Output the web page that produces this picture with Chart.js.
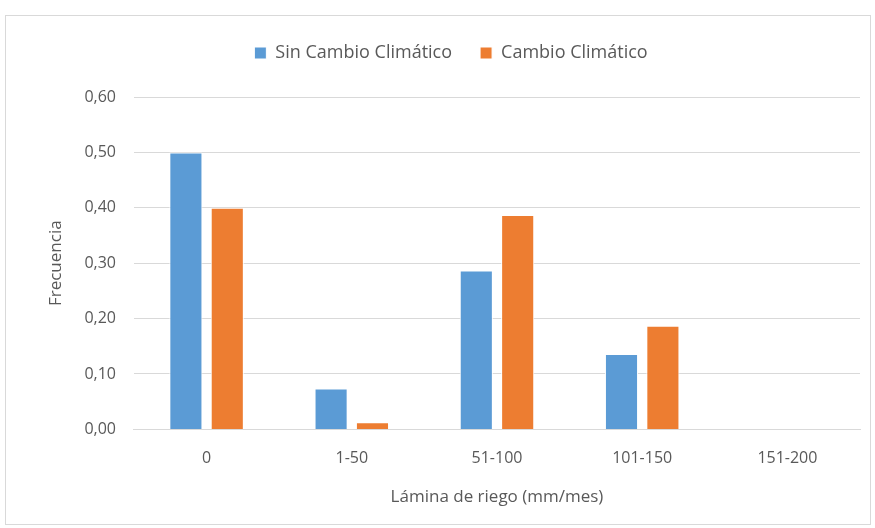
<!DOCTYPE html>
<html>
<head>
<meta charset="utf-8"/>
<script src="https://cdn.jsdelivr.net/npm/chart.js@4/dist/chart.umd.min.js"></script>
<style>
  body { margin: 0; background: #fff; }
  #frame {
    position: absolute; left: 5px; top: 15px;
    width: 864px; height: 508px;
    border: 1px solid #d9d9d9;
  }
</style>
</head>
<body>
<div id="frame"><canvas id="c" width="864" height="508"></canvas></div>
<script>
// categories and values
var categories = ["0", "1-50", "51-100", "101-150", "151-200"];
var sinCambio = [0.50, 0.074, 0.287, 0.136, 0];
var conCambio = [0.40, 0.013, 0.387, 0.187, 0];
var yTicks = [0, 0.1, 0.2, 0.3, 0.4, 0.5, 0.6];

var fontFam = "'Open Sans', 'Noto Sans', sans-serif";
var grey = "#595959";

// extra room under the legend, like the original
var legendGap = {
  id: "legendGap",
  beforeInit: function (chart) {
    var fit = chart.legend.fit;
    chart.legend.fit = function () {
      fit.bind(chart.legend)();
      this.height += 25;
    };
  }
};

new Chart(document.getElementById("c"), {
  type: "bar",
  data: {
    labels: categories,
    datasets: [
      { label: "Sin Cambio Climático", data: sinCambio, backgroundColor: "#5b9bd5",
        borderColor: "#ffffff", borderWidth: 1 },
      { label: "Cambio Climático", data: conCambio, backgroundColor: "#ed7d31",
        borderColor: "#ffffff", borderWidth: 1 }
    ]
  },
  plugins: [legendGap],
  options: {
    responsive: false,
    animation: false,
    layout: { padding: { left: 36, right: 10, top: 0, bottom: 13 } },
    datasets: { bar: { categoryPercentage: 0.57, barPercentage: 0.8 } },
    plugins: {
      legend: {
        position: "top",
        labels: {
          color: grey, boxWidth: 12, boxHeight: 12, padding: 28,
          font: { family: fontFam, size: 18 }
        }
      },
      tooltip: { enabled: false }
    },
    scales: {
      x: {
        grid: { display: false, drawTicks: false },
        border: { display: true, color: "#d9d9d9" },
        ticks: { color: grey, padding: 19, font: { family: fontFam, size: 16 } },
        title: { display: true, text: "Lámina de riego (mm/mes)", color: grey,
                 padding: { top: 0 }, font: { family: fontFam, size: 17 } }
      },
      y: {
        min: 0, max: 0.6,
        afterBuildTicks: function (ax) { ax.ticks = yTicks.map(function (v) { return { value: v }; }); },
        grid: { color: "#d9d9d9", drawTicks: false },
        border: { display: false },
        ticks: {
          color: grey, padding: 18, font: { family: fontFam, size: 16 },
          callback: function (v) { return Number(v).toFixed(2).replace(".", ","); }
        },
        title: { display: true, text: "Frecuencia", color: grey, padding: { bottom: 0 },
                 font: { family: fontFam, size: 17 } }
      }
    }
  }
});
</script>
</body>
</html>
